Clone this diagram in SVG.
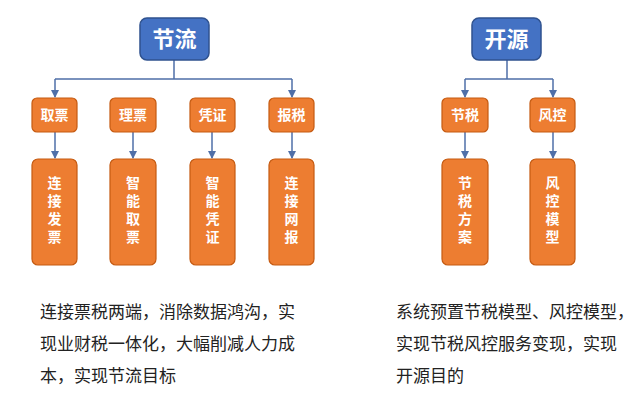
<svg xmlns="http://www.w3.org/2000/svg" width="640" height="404" viewBox="0 0 640 404">
<style>
.b{fill:#4472C4;stroke:#2F528F;stroke-width:1.5}
.o{fill:#ED7D31;stroke:#C55A11;stroke-width:1.2}
.c{fill:none;stroke:#4F6FA8;stroke-width:1.5}
text{font-family:"Noto Sans CJK SC",sans-serif;fill:#fff;font-weight:bold;text-anchor:middle}
.t{font-size:22px}
.s{font-size:14px}
.v{font-size:14px;writing-mode:vertical-rl;letter-spacing:4px}
.d{fill:#222;font-weight:normal;text-anchor:start;font-size:17px}
</style>
<defs><marker id="a" markerWidth="8" markerHeight="8" refX="7" refY="4" orient="auto" markerUnits="userSpaceOnUse"><path d="M0,0L8,4L0,8z" fill="#4F6FA8"/></marker></defs>
<rect width="640" height="404" fill="#fff"/>
<g id="connectors" class="c">
<path d="M174,60V79M55,79H292"/>
<path d="M55,79V97" marker-end="url(#a)"/>
<path d="M292,79V97" marker-end="url(#a)"/>
<path d="M55,132V158" marker-end="url(#a)"/>
<path d="M133,132V158" marker-end="url(#a)"/>
<path d="M212,132V158" marker-end="url(#a)"/>
<path d="M292,132V158" marker-end="url(#a)"/>
<path d="M507,60V79M465,79H553"/>
<path d="M465,79V97" marker-end="url(#a)"/>
<path d="M553,79V97" marker-end="url(#a)"/>
<path d="M465,132V158" marker-end="url(#a)"/>
<path d="M553,132V158" marker-end="url(#a)"/>
</g>
<g id="jieliu"><rect class="b" x="140" y="18" width="69" height="42" rx="7"/><text class="t" x="174.5" y="47">节流</text></g>
<g id="qupiao"><rect class="o" x="32" y="98" width="45" height="34" rx="5"/><text class="s" x="54.5" y="120">取票</text></g>
<g id="lipiao"><rect class="o" x="110" y="98" width="46" height="34" rx="5"/><text class="s" x="133" y="120">理票</text></g>
<g id="pingzheng"><rect class="o" x="190" y="98" width="45" height="34" rx="5"/><text class="s" x="212.5" y="120">凭证</text></g>
<g id="baoshui"><rect class="o" x="269" y="98" width="45" height="34" rx="5"/><text class="s" x="291.5" y="120">报税</text></g>
<g id="t1"><rect class="o" x="32" y="159" width="45" height="106" rx="6"/><text class="v" x="54.5" y="212">连接发票</text></g>
<g id="t2"><rect class="o" x="110" y="159" width="46" height="106" rx="6"/><text class="v" x="133" y="212">智能取票</text></g>
<g id="t3"><rect class="o" x="190" y="159" width="45" height="106" rx="6"/><text class="v" x="212.5" y="212">智能凭证</text></g>
<g id="t4"><rect class="o" x="269" y="159" width="45" height="106" rx="6"/><text class="v" x="291.5" y="212">连接网报</text></g>
<g id="kaiyuan"><rect class="b" x="472" y="18" width="69" height="42" rx="7"/><text class="t" x="506.5" y="47">开源</text></g>
<g id="jieshui"><rect class="o" x="442" y="98" width="46" height="34" rx="5"/><text class="s" x="465" y="120">节税</text></g>
<g id="fengkong"><rect class="o" x="530" y="98" width="45" height="34" rx="5"/><text class="s" x="552.5" y="120">风控</text></g>
<g id="t5"><rect class="o" x="442" y="159" width="46" height="106" rx="6"/><text class="v" x="465" y="212">节税方案</text></g>
<g id="t6"><rect class="o" x="530" y="159" width="45" height="106" rx="6"/><text class="v" x="552.5" y="212">风控模型</text></g>
<text class="d" x="40" y="318">连接票税两端，消除数据鸿沟，实</text>
<text class="d" x="40" y="350">现业财税一体化，大幅削减人力成</text>
<text class="d" x="40" y="382">本，实现节流目标</text>
<text class="d" x="396" y="318">系统预置节税模型、风控模型，</text>
<text class="d" x="396" y="350">实现节税风控服务变现，实现</text>
<text class="d" x="396" y="382">开源目的</text>
</svg>
